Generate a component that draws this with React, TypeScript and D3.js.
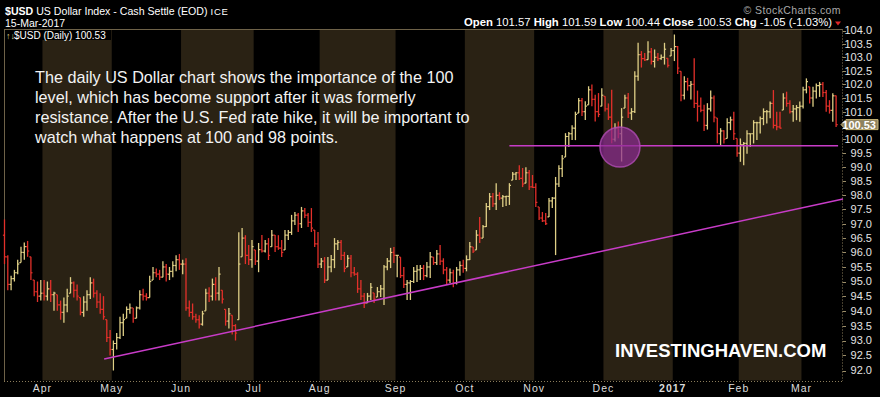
import React, { useEffect, useRef } from 'react';
import * as d3 from 'd3';

// trading calendar (ICE dollar index, one year of dailies)
const startDate = '2016-03-15';
const endDate = '2017-03-15';
const holidays = [
  '2016-03-25', '2016-05-30', '2016-07-04', '2016-09-05', '2016-11-24',
  '2016-12-26', '2017-01-02', '2017-01-16', '2017-02-20'
];

const firstOpen = 96.6;

// daily bars, one row per month (Mar-16 ... Mar-17)
const barHigh = [
  97.15, 95.9, 95.2, 95.4, 95.75, 96.2, 96.35, 96.4, 95.85, 95.05, 95.0, 95.05,
  95.05, 95.0, 95.05, 94.65, 94.55, 94.35, 94.45, 94.75, 95.15, 95.0, 94.9, 94.45, 94.5, 94.7, 95.15, 95.1, 94.7, 94.6, 94.5, 93.7, 93.35,
  93.0, 93.25, 93.8, 93.9, 94.15, 94.25, 94.1, 94.15, 94.7, 94.75, 94.6, 95.2, 95.5, 95.45, 95.4, 95.7, 95.6, 95.5, 95.7, 95.9, 95.95,
  95.75, 95.8, 94.35, 94.25, 93.9, 93.85, 94.0, 94.75, 94.8, 95.1, 95.15, 95.5, 94.7, 94.05, 94.1, 93.85, 93.55, 96.7, 96.85, 96.6, 96.26, 96.43,
  96.09, 96.33, 96.61, 96.43, 96.5, 96.78, 96.61, 96.6, 96.43, 96.78, 96.78, 97.31, 97.41, 97.38, 97.59, 97.55, 97.38, 97.55, 96.78, 96.71,
  95.81, 95.84, 95.84, 95.91, 96.5, 96.43, 96.43, 96.02, 95.91, 95.91, 95.5, 95.32, 95.05, 94.61, 94.61, 94.95, 94.61, 94.81, 94.88, 95.57, 95.81, 96.16, 96.19,
  95.91, 95.84, 95.5, 95.05, 95.05, 95.5, 95.57, 95.57, 95.57, 95.67, 96.02, 95.84, 96.09, 96.26, 95.8, 95.5, 95.45, 95.4, 95.5, 95.7, 95.75,
  95.9, 96.36, 96.19, 96.78, 97.24, 96.96, 97.73, 98.08, 98.08, 98.43, 98.11, 98.01, 97.98, 98.43, 98.83, 98.83, 99.07, 98.97, 99.0, 98.9, 98.72,
  98.43, 97.59, 97.41, 97.38, 97.9, 97.94, 98.65, 99.07, 99.43, 100.22, 100.26, 100.51, 101.0, 101.5, 101.5, 101.38, 101.93, 101.99, 101.62, 101.68, 101.86,
  101.56, 101.3, 101.8, 100.58, 100.64, 101.13, 101.62, 101.68, 101.13, 102.48, 103.54, 103.23, 103.16, 103.6, 103.35, 103.29, 103.16, 103.1, 103.54, 102.96, 103.35,
  103.85, 103.42, 102.48, 102.3, 102.24, 102.12, 102.96, 101.77, 101.52, 101.25, 101.31, 101.77, 101.59, 100.77, 100.4, 100.33, 100.76, 100.82, 101.0, 100.03,
  100.03, 99.9, 100.33, 100.21, 100.69, 100.63, 100.82, 101.12, 101.06, 101.37, 101.79, 101.0, 101.0, 101.67, 101.73, 101.42, 101.24, 101.24, 101.37,
  101.91, 102.22, 101.91, 101.91, 102.03, 102.09, 102.09, 101.79, 101.42, 101.67, 101.59
];

const barLow = [
  95.6, 94.7, 94.7, 95.0, 95.25, 95.65, 95.75, 95.85, 95.05, 94.5, 94.3, 94.35,
  94.35, 94.35, 94.3, 94.0, 94.0, 93.7, 93.6, 93.95, 94.6, 94.45, 94.35, 93.85, 93.8, 94.0, 94.4, 94.45, 94.1, 93.9, 93.7, 92.95, 92.5,
  92.0, 92.7, 93.05, 93.15, 93.75, 93.9, 93.6, 93.75, 94.05, 94.35, 94.35, 94.45, 95.05, 95.15, 95.05, 95.15, 95.0, 95.05, 95.15, 95.35, 95.4,
  95.25, 94.0, 93.8, 93.7, 93.6, 93.4, 93.5, 94.0, 94.3, 94.35, 94.35, 94.35, 94.25, 93.5, 93.4, 93.2, 93.0, 93.7, 95.85, 95.6, 95.57, 95.47,
  95.57, 95.32, 96.0, 96.0, 95.74, 96.2, 96.02, 96.09, 95.84, 96.09, 96.43, 96.61, 96.96, 96.71, 96.85, 97.2, 96.89, 96.71, 96.19, 95.46,
  95.46, 94.95, 95.05, 95.32, 95.46, 96.09, 95.74, 95.32, 95.5, 95.15, 95.2, 94.61, 94.37, 94.1, 94.27, 94.37, 94.27, 94.47, 94.47, 94.2, 95.39, 95.46, 95.64,
  95.15, 95.12, 94.78, 94.37, 94.37, 94.95, 94.98, 95.05, 95.05, 95.15, 95.12, 95.57, 95.57, 95.57, 95.25, 94.9, 94.95, 94.8, 94.9, 95.2, 95.3,
  95.35, 95.74, 95.98, 96.09, 96.33, 96.5, 96.89, 97.48, 97.59, 97.48, 97.83, 97.59, 97.62, 97.66, 98.54, 98.54, 98.54, 98.29, 98.43, 98.19, 98.26,
  97.59, 97.13, 97.06, 96.96, 97.24, 97.55, 95.91, 98.29, 98.65, 99.36, 99.72, 99.97, 99.97, 100.95, 100.84, 100.7, 101.25, 101.2, 100.64, 100.8, 101.2,
  101.01, 100.7, 99.86, 99.92, 100.04, 99.2, 101.13, 100.77, 100.7, 100.95, 102.13, 102.62, 102.86, 102.91, 102.73, 102.62, 102.86, 102.91, 102.73, 102.62, 103.05,
  102.86, 102.38, 101.38, 101.44, 101.77, 101.44, 101.13, 100.64, 100.98, 100.3, 100.35, 101.01, 100.62, 99.86, 99.79, 99.85, 100.03, 100.33, 99.97, 99.37,
  99.19, 99.07, 99.48, 99.73, 99.85, 99.97, 100.21, 100.51, 100.57, 100.76, 100.39, 100.33, 100.39, 101.06, 101.18, 100.93, 100.63, 100.69, 100.63,
  101.12, 101.67, 101.3, 101.18, 101.48, 101.54, 101.54, 101.0, 100.93, 100.63, 100.44
];

const barClose = [
  95.85, 94.9, 95.1, 95.3, 95.6, 96.0, 96.2, 96.05, 95.3, 94.65, 94.5, 94.6,
  94.5, 94.75, 94.55, 94.6, 94.2, 93.95, 94.2, 94.5, 94.95, 94.7, 94.5, 93.95, 94.3, 94.55, 94.95, 94.6, 94.3, 94.05, 93.8, 93.1, 92.7,
  92.9, 93.1, 93.6, 93.7, 94.05, 94.1, 93.75, 94.1, 94.55, 94.5, 94.45, 95.0, 95.3, 95.25, 95.15, 95.5, 95.25, 95.35, 95.55, 95.75, 95.6,
  95.6, 94.1, 93.95, 93.8, 93.7, 93.55, 93.9, 94.6, 94.5, 94.9, 94.6, 95.25, 94.4, 93.65, 93.9, 93.5, 93.25, 95.6, 96.5, 95.9, 95.75, 96.2,
  95.7, 96.1, 96.05, 96.3, 95.9, 96.6, 96.2, 96.15, 96.0, 96.6, 96.7, 97.1, 97.3, 97.0, 97.45, 97.3, 97.05, 96.85, 96.3, 95.6,
  95.7, 95.05, 95.5, 95.75, 96.3, 96.35, 95.9, 95.45, 95.8, 95.3, 95.25, 94.75, 94.5, 94.25, 94.5, 94.8, 94.4, 94.65, 94.75, 95.5, 95.7, 96.0, 95.9,
  95.9, 95.2, 94.9, 94.95, 95.0, 95.35, 95.4, 95.45, 95.2, 95.5, 95.85, 95.65, 95.95, 95.7, 95.4, 95.05, 95.3, 94.95, 95.4, 95.55, 95.45,
  95.75, 96.2, 96.05, 96.6, 96.5, 96.9, 97.6, 97.95, 97.7, 98.0, 97.9, 97.95, 97.96, 98.35, 98.75, 98.8, 98.6, 98.4, 98.8, 98.3, 98.28,
  97.75, 97.2, 97.1, 97.0, 97.8, 97.9, 98.4, 98.95, 99.3, 100.1, 100.2, 100.4, 100.9, 101.4, 101.0, 101.2, 101.8, 101.45, 101.0, 100.9, 101.6,
  101.1, 100.8, 100.0, 100.4, 100.2, 100.8, 101.5, 100.95, 101.0, 102.3, 103.1, 102.95, 102.9, 103.2, 102.85, 103.0, 102.95, 103.0, 103.3, 102.7, 103.25,
  103.4, 102.6, 101.6, 102.1, 101.95, 102.0, 101.3, 101.2, 101.05, 100.5, 101.1, 101.5, 100.8, 100.2, 100.3, 100.0, 100.6, 100.7, 100.2, 99.5,
  99.8, 99.85, 100.2, 100.2, 100.6, 100.6, 100.75, 101.0, 101.0, 101.3, 100.5, 100.45, 100.4, 101.5, 101.3, 101.0, 101.1, 101.15, 101.2,
  101.8, 102.1, 101.5, 101.75, 101.95, 102.0, 101.7, 101.2, 101.05, 101.58, 100.53
];

const monthLabels = ['Apr', 'May', 'Jun', 'Jul', 'Aug', 'Sep', 'Oct', 'Nov', 'Dec', '2017', 'Feb', 'Mar'];
const shadedMonths = ['Apr', 'Jun', 'Aug', 'Oct', 'Dec', 'Feb'];
const yTickValues = [92, 92.5, 93, 93.5, 94, 94.5, 95, 95.5, 96, 96.5, 97, 97.5, 98, 98.5, 99, 99.5, 100, 100.5, 101, 101.5, 102, 102.5, 103, 103.5, 104];
const lastPrice = 100.53;

// annotations as [bar index, price]
const supportLine: [number, number][] = [[153, 99.77], [252.6, 99.77]];
const trendLine: [number, number][] = [[30.2, 92.38], [254.1, 97.87]];
const highlight: [number, number] = [186.5, 99.72];

const titleSymbol = '$USD';
const titleName = 'US Dollar Index - Cash Settle (EOD)';
const titleExchange = 'ICE';
const chartDate = '15-Mar-2017';
const quoteFields: [string, string][] = [
  ['Open', '101.57'], ['High', '101.59'], ['Low', '100.44'], ['Close', '100.53'], ['Chg', '-1.05 (-1.03%)']
];
const legendText = '$USD (Daily) 100.53';
const noteLines = [
  'The daily US Dollar chart shows the importance of the 100',
  'level, which has become support after it was formerly',
  'resistance. After the U.S. Fed rate hike, it will be important to',
  'watch what happens at 100 and 98 points.'
];
const watermark = 'INVESTINGHAVEN.COM';

const W = 880;
const H = 397;
const FONT = '"Liberation Sans", Arial, sans-serif';
const TAN = '#dfcf86';
const RED = '#e3302a';
const FRAME = '#6e6248';
const BAND = '#2a2214';
const MAGENTA = '#c83cc8';

const PriceChart: React.FC = () => {
  const svgRef = useRef<SVGSVGElement>(null);

  useEffect(() => {
    if (!svgRef.current) return;
    const svg = d3.select(svgRef.current);
    svg.selectAll('*').remove();

    const plotLeft = 4;
    const plotRight = 842.5;
    const plotTop = 29.5;
    const plotBottom = 381;

    const parse = d3.timeParse('%Y-%m-%d');
    const fmt = d3.timeFormat('%Y-%m-%d');
    const holidaySet = new Set(holidays);
    const days = d3.timeDay
      .range(parse(startDate)!, d3.timeDay.offset(parse(endDate)!, 1))
      .filter(d => d.getDay() !== 0 && d.getDay() !== 6 && !holidaySet.has(fmt(d)));

    const n = barClose.length;
    const x = d3.scaleLinear().domain([0, n - 1]).range([4.5, 836.1]);
    const step = x(1) - x(0);
    const y = d3.scaleLog().domain([92, 104]).range([370.5, 30.5]);

    // month boundaries
    const monthStarts: number[] = [];
    days.forEach((d, i) => {
      if (i > 0 && d.getMonth() !== days[i - 1].getMonth()) monthStarts.push(i);
    });
    const boundaryX = monthStarts.map(i => x(i) - step / 2);

    svg.append('rect').attr('width', W).attr('height', H).attr('fill', '#000');

    // alternating month shading
    const bands = svg.append('g');
    monthLabels.forEach((label, k) => {
      if (!shadedMonths.includes(label)) return;
      const x0 = boundaryX[k];
      const x1 = k + 1 < boundaryX.length ? boundaryX[k + 1] : plotRight;
      bands.append('rect')
        .attr('x', x0).attr('y', plotTop + 0.5)
        .attr('width', x1 - x0).attr('height', plotBottom - plotTop - 1)
        .attr('fill', BAND);
    });

    // frame
    svg.append('line')
      .attr('x1', plotLeft).attr('x2', plotRight).attr('y1', plotTop).attr('y2', plotTop)
      .attr('stroke', FRAME).attr('stroke-width', 1);
    svg.append('line')
      .attr('x1', plotLeft + 0.5).attr('x2', plotLeft + 0.5).attr('y1', plotTop).attr('y2', plotBottom)
      .attr('stroke', FRAME).attr('stroke-width', 1);
    svg.append('line')
      .attr('x1', plotLeft).attr('x2', plotRight).attr('y1', plotBottom + 0.5).attr('y2', plotBottom + 0.5)
      .attr('stroke', '#8a7c5a').attr('stroke-width', 1).attr('stroke-dasharray', '1,2');
    svg.append('line')
      .attr('x1', plotRight).attr('x2', plotRight).attr('y1', plotTop).attr('y2', plotBottom)
      .attr('stroke', '#8a7c5a').attr('stroke-width', 1).attr('stroke-dasharray', '1,2');

    // y axis ticks + labels
    const axis = svg.append('g');
    const lastY = y(lastPrice);
    yTickValues.forEach(v => {
      const ty = Math.round(y(v)) + 0.5;
      axis.append('line')
        .attr('x1', plotRight).attr('x2', plotRight + 3.5).attr('y1', ty).attr('y2', ty)
        .attr('stroke', '#9a8c68').attr('stroke-width', 1);
      if (Math.abs(y(v) - lastY) < 8) return;
      axis.append('text')
        .attr('x', 872).attr('y', y(v)).attr('dy', '0.36em')
        .attr('text-anchor', 'end')
        .style('font-family', FONT).style('font-size', '11px')
        .attr('fill', '#e4e4e4')
        .text(d3.format('.1f')(v));
    });

    // x axis month labels
    monthLabels.forEach((label, k) => {
      svg.append('text')
        .attr('x', boundaryX[k]).attr('y', 392)
        .attr('text-anchor', 'middle')
        .style('font-family', FONT).style('font-size', '10.5px')
        .style('letter-spacing', '1px')
        .style('font-weight', label === '2017' ? 'bold' : 'normal')
        .attr('fill', '#dcdcdc')
        .text(label);
    });

    // OHLC bars
    const bars = svg.append('g');
    barClose.forEach((c, i) => {
      const prev = i === 0 ? firstOpen : barClose[i - 1];
      const open = Math.max(barLow[i], Math.min(barHigh[i], prev));
      const color = c >= prev ? TAN : RED;
      const bx = x(i);
      bars.append('line')
        .attr('x1', bx).attr('x2', bx).attr('y1', y(barHigh[i])).attr('y2', y(barLow[i]))
        .attr('stroke', color).attr('stroke-width', 1.3);
      bars.append('line')
        .attr('x1', bx - 1.6).attr('x2', bx).attr('y1', y(open)).attr('y2', y(open))
        .attr('stroke', color).attr('stroke-width', 1.2);
      bars.append('line')
        .attr('x1', bx).attr('x2', bx + 1.6).attr('y1', y(c)).attr('y2', y(c))
        .attr('stroke', color).attr('stroke-width', 1.2);
    });

    // annotations
    const linePath = d3.line<[number, number]>().x(d => x(d[0])).y(d => y(d[1]));
    svg.append('path').attr('d', linePath(supportLine))
      .attr('stroke', MAGENTA).attr('stroke-width', 1.5).attr('fill', 'none');
    svg.append('path').attr('d', linePath(trendLine))
      .attr('stroke', MAGENTA).attr('stroke-width', 1.5).attr('fill', 'none');
    svg.append('circle')
      .attr('cx', x(highlight[0])).attr('cy', y(highlight[1])).attr('r', 20)
      .attr('fill', '#8e2c92').attr('fill-opacity', 0.72)
      .attr('stroke', '#b04cb4').attr('stroke-width', 1.5).attr('stroke-opacity', 0.8);

    // last price flag
    const flag = svg.append('g');
    flag.append('path')
      .attr('d', `M841,${lastY} L846,${lastY - 5} L878,${lastY - 5} L878,${lastY + 5} L846,${lastY + 5} Z`)
      .attr('fill', '#8d8260').attr('stroke', '#cbb877').attr('stroke-width', 1);
    flag.append('text')
      .attr('x', 876).attr('y', lastY).attr('dy', '0.36em').attr('text-anchor', 'end')
      .style('font-family', FONT).style('font-size', '11px').style('font-weight', 'bold')
      .attr('fill', '#ffffff')
      .text(d3.format('.2f')(lastPrice));

    // commentary text
    const note = svg.append('text')
      .style('font-family', FONT).style('font-size', '16.2px')
      .attr('fill', '#f2f2f2');
    noteLines.forEach((line, k) => {
      note.append('tspan').attr('x', 35).attr('y', 83 + k * 20).text(line);
    });

    svg.append('text')
      .attr('x', 615).attr('y', 357)
      .style('font-family', FONT).style('font-size', '18.5px').style('font-weight', 'bold')
      .attr('fill', '#ffffff')
      .text(watermark);

    // header
    const title = svg.append('text').attr('x', 5).attr('y', 15)
      .style('font-family', FONT).style('font-size', '10.6px').attr('fill', '#ffffff');
    title.append('tspan').style('font-weight', 'bold').text(titleSymbol);
    title.append('tspan').text(' ' + titleName + ' ');
    title.append('tspan').style('font-size', '9.5px').style('letter-spacing', '0.8px').text(titleExchange);

    svg.append('text').attr('x', 5).attr('y', 26.5)
      .style('font-family', FONT).style('font-size', '10.5px').attr('fill', '#ffffff')
      .text(chartDate);

    svg.append('text').attr('x', 841).attr('y', 14).attr('text-anchor', 'end')
      .style('font-family', FONT).style('font-size', '10.5px').style('letter-spacing', '0.4px')
      .attr('fill', '#a8a8a8')
      .text('\u00A9 StockCharts.com');

    const quote = svg.append('text').attr('x', 832).attr('y', 26).attr('text-anchor', 'end')
      .style('font-family', FONT).style('font-size', '11.3px').attr('fill', '#ffffff');
    quoteFields.forEach(([label, value], k) => {
      quote.append('tspan').style('font-weight', 'bold').text((k > 0 ? '  ' : '') + label);
      quote.append('tspan').text(' ' + value);
    });
    svg.append('path')
      .attr('d', 'M835,21.5 L841,21.5 L838,25.5 Z')
      .attr('fill', '#e02828');

    // legend row
    svg.append('rect').attr('x', 5).attr('y', 30).attr('width', 106).attr('height', 10).attr('fill', '#000');
    svg.append('text').attr('x', 6).attr('y', 38.5)
      .style('font-family', FONT).style('font-size', '9px').attr('fill', TAN)
      .text('\u2191\u2193');
    svg.append('text').attr('x', 14).attr('y', 38.5)
      .style('font-family', FONT).style('font-size', '10px').attr('fill', '#ffffff')
      .text(legendText);
  }, []);

  return (
    <div style={{ position: 'absolute', left: 0, top: 0, width: W, height: H, background: '#000' }}>
      <svg ref={svgRef} width={W} height={H} style={{ display: 'block' }} />
    </div>
  );
};

export default function App() {
  return <PriceChart />;
}
